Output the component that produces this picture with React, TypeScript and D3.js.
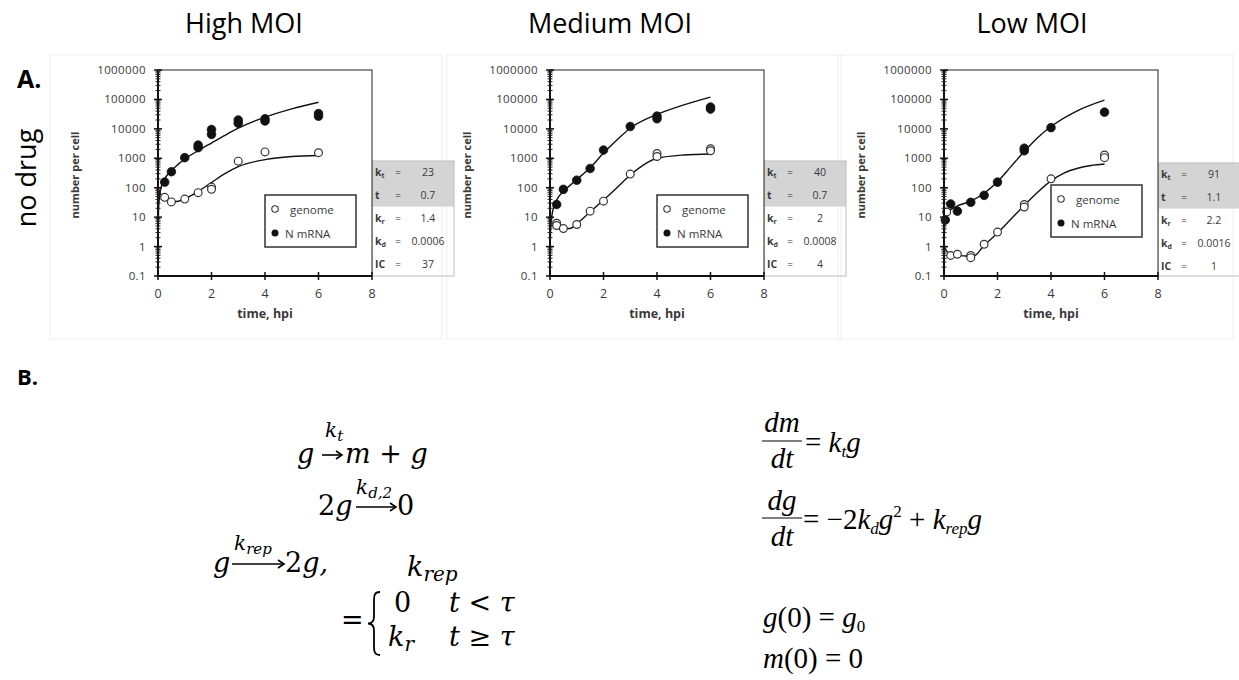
import React from 'react';
import * as d3 from 'd3';

// ---------- data ----------
const panelTitles = ['High MOI', 'Medium MOI', 'Low MOI'];
const yTickValues = [0.1, 1, 10, 100, 1000, 10000, 100000, 1000000];
const xTickValues = [0, 2, 4, 6, 8];
const legendLabels = ['genome', 'N mRNA'];
const paramMain = ['k', 't', 'k', 'k', 'IC'];
const paramSub = ['t', '', 'r', 'd', ''];

// High MOI
const hiGenomeT = [0.25, 0.5, 1, 1.5, 2, 2, 3, 4, 6];
const hiGenome = [47, 33, 41, 68, 105, 88, 800, 1650, 1550];
const hiMrnaT = [0.25, 0.5, 1, 1.5, 1.5, 2, 2, 3, 3, 4, 4, 6, 6];
const hiMrna = [155, 350, 1050, 2800, 2300, 9500, 6500, 20000, 15500, 22000, 18500, 33000, 27000];
const hiGenomeFitT = [0, 0.1, 0.25, 0.5, 0.7, 1, 1.5, 2, 2.5, 3, 4, 5, 6];
const hiGenomeFit = [90, 60, 45, 36, 34, 42, 75, 150, 300, 520, 900, 1150, 1250];
const hiMrnaFitT = [0.005, 0.02, 0.05, 0.1, 0.25, 0.5, 0.75, 1, 1.5, 2, 2.5, 3, 4, 5, 6];
const hiMrnaFit = [4, 17, 45, 90, 200, 380, 620, 950, 1800, 3300, 6000, 10500, 25000, 48000, 80000];
const hiParams = ['23', '0.7', '1.4', '0.0006', '37'];

// Medium MOI
const medGenomeT = [0.25, 0.25, 0.5, 1, 1.5, 2, 3, 4, 4, 6, 6];
const medGenome = [6.2, 5.2, 4.1, 5.6, 16, 35, 290, 1450, 1150, 2100, 1800];
const medMrnaT = [0.25, 0.5, 1, 1.5, 2, 3, 4, 4, 6, 6];
const medMrna = [27, 88, 180, 450, 1900, 12000, 27000, 22000, 55000, 47000];
const medGenomeFitT = [0, 0.25, 0.5, 0.75, 1, 1.5, 2, 2.5, 3, 3.5, 4, 5, 6];
const medGenomeFit = [5.5, 4.6, 4.1, 4.1, 6, 15, 38, 100, 270, 600, 1000, 1300, 1400];
const medMrnaFitT = [0.005, 0.02, 0.05, 0.1, 0.25, 0.5, 0.75, 1, 1.5, 2, 2.5, 3, 4, 5, 6];
const medMrnaFit = [0.8, 3.2, 8, 16, 38, 75, 120, 190, 480, 1500, 4200, 10500, 31000, 65000, 120000];
const medParams = ['40', '0.7', '2', '0.0008', '4'];

// Low MOI
const lowGenomeT = [0.1, 0.25, 0.5, 1, 1, 1.5, 2, 3, 3, 4, 6, 6];
const lowGenome = [15, 0.5, 0.55, 0.5, 0.42, 1.2, 3.1, 27, 22, 200, 1300, 1050];
const lowMrnaT = [0.05, 0.25, 0.5, 1, 1.5, 2, 3, 3, 4, 6];
const lowMrna = [8, 28, 16, 32, 55, 155, 2200, 1800, 11000, 37000];
const lowGenomeFitT = [0, 0.1, 0.25, 0.5, 0.8, 1.1, 1.5, 2, 2.5, 3, 3.5, 4, 4.5, 5, 5.5, 6];
const lowGenomeFit = [1, 0.7, 0.55, 0.5, 0.48, 0.47, 1.1, 2.9, 8.5, 25, 70, 170, 320, 460, 570, 640];
const lowMrnaFitT = [0.005, 0.02, 0.05, 0.1, 0.25, 0.5, 1, 1.5, 2, 2.5, 3, 3.5, 4, 5, 6];
const lowMrnaFit = [1, 4, 9, 14, 18, 24, 35, 65, 160, 520, 1700, 5000, 12000, 42000, 95000];
const lowParams = ['91', '1.1', '2.2', '0.0016', '1'];

// ---------- layout ----------
const W = 1239;
const H = 680;
const PLOT_W = 214;
const PLOT_TOP = 70;
const PLOT_BOTTOM = 276;
const TABLE_W = 82;
const ROW_H = 22.8;
const FONT = "'Open Sans', 'DejaVu Sans', sans-serif";
const TXT = '#3a3a3a';

const zip = (a: number[], b: number[]) => a.map((t, i) => [t, b[i]] as [number, number]);

const panels = [
  { title: panelTitles[0], titleX: 244, left: 158, legendTop: 195, tableTop: 161,
    genome: zip(hiGenomeT, hiGenome), mrna: zip(hiMrnaT, hiMrna),
    gFit: zip(hiGenomeFitT, hiGenomeFit), mFit: zip(hiMrnaFitT, hiMrnaFit), params: hiParams },
  { title: panelTitles[1], titleX: 610, left: 550, legendTop: 195, tableTop: 161,
    genome: zip(medGenomeT, medGenome), mrna: zip(medMrnaT, medMrna),
    gFit: zip(medGenomeFitT, medGenomeFit), mFit: zip(medMrnaFitT, medMrnaFit), params: medParams },
  { title: panelTitles[2], titleX: 1032, left: 944, legendTop: 185, tableTop: 163,
    genome: zip(lowGenomeT, lowGenome), mrna: zip(lowMrnaT, lowMrna),
    gFit: zip(lowGenomeFitT, lowGenomeFit), mFit: zip(lowMrnaFitT, lowMrnaFit), params: lowParams },
];

function Panel({ p, idx }: { p: any; idx: number }) {
  const x = d3.scaleLinear().domain([0, 8]).range([p.left, p.left + PLOT_W]);
  const y = d3.scaleLog().domain([0.1, 1e6]).range([PLOT_BOTTOM, PLOT_TOP]);
  const line = d3.line<[number, number]>().x(d => x(d[0])).y(d => y(d[1])).curve(d3.curveMonotoneX);
  const minor: number[] = [];
  yTickValues.slice(0, -1).forEach(dec => { for (let k = 2; k <= 9; k++) minor.push(dec * k); });
  const fmt = (v: number) => (v < 1 ? String(v) : d3.format('d')(v));
  const clipId = `clip${idx}`;
  const tl = p.left + PLOT_W;
  const lx = p.left + PLOT_W - 16 - 91;
  return (
    <g>
      <text x={p.titleX} y={33} textAnchor="middle" fontFamily={FONT} fontSize={27} fill="#000">{p.title}</text>
      <defs>
        <clipPath id={clipId}>
          <rect x={p.left} y={PLOT_TOP} width={PLOT_W} height={PLOT_BOTTOM - PLOT_TOP} />
        </clipPath>
      </defs>
      {/* parameter table */}
      <rect x={tl} y={p.tableTop} width={TABLE_W} height={ROW_H * 2} fill="#d4d4d4" />
      <rect x={tl} y={p.tableTop} width={TABLE_W} height={PLOT_BOTTOM - p.tableTop} fill="none" stroke="#bdbdbd" strokeWidth={1} />
      {p.params.map((v: string, i: number) => {
        const cy = p.tableTop + ROW_H * (i + 0.5) + 4;
        return (
          <g key={i} fontFamily={FONT} fontSize={10.5} fill={TXT}>
            <text x={tl + 3} y={cy} fontWeight="bold">
              {paramMain[i]}
              {paramSub[i] && <tspan fontSize={7} dy={2}>{paramSub[i]}</tspan>}
            </text>
            <text x={tl + 23} y={cy}>=</text>
            <text x={tl + 56} y={cy} textAnchor="middle">{v}</text>
          </g>
        );
      })}
      {/* plot frame */}
      <rect x={p.left} y={PLOT_TOP} width={PLOT_W} height={PLOT_BOTTOM - PLOT_TOP} fill="#fff" stroke="#222" strokeWidth={1} />
      <g clipPath={`url(#${clipId})`}>
        <path d={line(p.mFit) || ''} fill="none" stroke="#111" strokeWidth={1.4} />
        <path d={line(p.gFit) || ''} fill="none" stroke="#111" strokeWidth={1.4} />
      </g>
      {p.mrna.map((d: [number, number], i: number) => (
        <circle key={'m' + i} cx={x(d[0])} cy={y(d[1])} r={4.3} fill="#111" stroke="#111" strokeWidth={0.8} />
      ))}
      {p.genome.map((d: [number, number], i: number) => (
        <circle key={'g' + i} cx={x(d[0])} cy={y(d[1])} r={3.9} fill="#fff" stroke="#333" strokeWidth={1.2} />
      ))}
      {/* axes */}
      <line x1={p.left} x2={p.left} y1={PLOT_TOP} y2={PLOT_BOTTOM} stroke="#111" strokeWidth={2} />
      <line x1={p.left} x2={p.left + PLOT_W} y1={PLOT_BOTTOM} y2={PLOT_BOTTOM} stroke="#111" strokeWidth={2} />
      {minor.map((v, i) => (
        <line key={'mn' + i} x1={p.left - 2.5} x2={p.left + 2.5} y1={y(v)} y2={y(v)} stroke="#222" strokeWidth={1} />
      ))}
      {yTickValues.map((v, i) => (
        <g key={'yt' + i}>
          <line x1={p.left - 4} x2={p.left + 4} y1={y(v)} y2={y(v)} stroke="#111" strokeWidth={1.5} />
          <text x={p.left - 12} y={y(v) + 4} textAnchor="end" fontFamily={FONT} fontSize={11.5} fill={TXT} letterSpacing={0.4}>{fmt(v)}</text>
        </g>
      ))}
      {xTickValues.map((v, i) => (
        <g key={'xt' + i}>
          <line x1={x(v)} x2={x(v)} y1={PLOT_BOTTOM - 4} y2={PLOT_BOTTOM + 4} stroke="#111" strokeWidth={1.5} />
          <text x={x(v)} y={PLOT_BOTTOM + 22} textAnchor="middle" fontFamily={FONT} fontSize={12.5} fill={TXT}>{v}</text>
        </g>
      ))}
      <text x={x(4)} y={PLOT_BOTTOM + 42} textAnchor="middle" fontFamily={FONT} fontSize={12.5} fontWeight="bold" fill={TXT}>time, hpi</text>
      <text transform={`translate(${p.left - 79},${(PLOT_TOP + PLOT_BOTTOM) / 2 + 2}) rotate(-90)`} textAnchor="middle"
        fontFamily={FONT} fontSize={11} fontWeight="bold" fill={TXT}>number per cell</text>
      {/* legend */}
      <rect x={lx} y={p.legendTop} width={91} height={52} fill="#fff" stroke="#333" strokeWidth={1.5} />
      <circle cx={lx + 10} cy={p.legendTop + 14} r={3.2} fill="#fff" stroke="#333" strokeWidth={1.1} />
      <circle cx={lx + 10} cy={p.legendTop + 38} r={3.5} fill="#111" />
      <text x={lx + 25} y={p.legendTop + 18.5} fontFamily={FONT} fontSize={11.5} fill={TXT}>{legendLabels[0]}</text>
      <text x={lx + 20} y={p.legendTop + 42.5} fontFamily={FONT} fontSize={11.5} fill={TXT}>{legendLabels[1]}</text>
    </g>
  );
}

function Arrow({ x1, x2, y }: { x1: number; x2: number; y: number }) {
  return (
    <g stroke="#000" strokeWidth={1.6} fill="none">
      <line x1={x1} x2={x2 - 1} y1={y} y2={y} />
      <path d={`M${x2 - 6},${y - 4} L${x2},${y} L${x2 - 6},${y + 4}`} />
    </g>
  );
}

function Brace({ x, top, bot }: { x: number; top: number; bot: number }) {
  const mid = (top + bot) / 2;
  const d = `M${x + 9},${top} C${x + 3},${top} ${x + 3},${top + 4} ${x + 3},${top + 10} L${x + 3},${mid - 7} C${x + 3},${mid - 2} ${x + 1},${mid} ${x - 3},${mid} C${x + 1},${mid} ${x + 3},${mid + 2} ${x + 3},${mid + 7} L${x + 3},${bot - 10} C${x + 3},${bot - 4} ${x + 3},${bot} ${x + 9},${bot}`;
  return <path d={d} fill="none" stroke="#000" strokeWidth={1.8} />;
}

function Equations() {
  const LF = "'DejaVu Serif', serif";
  const RF = "'Liberation Serif', 'Times New Roman', serif";
  return (
    <g fill="#000">
      {/* left: reactions */}
      <g fontFamily={LF} fontStyle="italic" fontSize={27}>
        <text x={297} y={463}>g</text>
        <Arrow x1={322} x2={342} y={455} />
        <text x={325} y={437} fontSize={20}>k<tspan fontSize={15} dy={4}>t</tspan></text>
        <text x={345} y={463}>m <tspan fontStyle="normal">+</tspan> g</text>

        <text x={318} y={515}><tspan fontStyle="normal">2</tspan>g</text>
        <Arrow x1={356} x2={396} y={507} />
        <text x={356} y={494} fontSize={20}>k<tspan fontSize={15} dy={4}>d,2</tspan></text>
        <text x={397} y={515} fontStyle="normal">0</text>

        <text x={213} y={572}>g</text>
        <Arrow x1={232} x2={284} y={564} />
        <text x={234} y={550} fontSize={20}>k<tspan fontSize={15} dy={4}>rep</tspan></text>
        <text x={285} y={572}><tspan fontStyle="normal">2</tspan>g,</text>

        <text x={407} y={576}>k<tspan fontSize={20} dy={5}>rep</tspan></text>
        <text x={341} y={629} fontStyle="normal">=</text>
        <Brace x={371} top={592} bot={655} />
        <text x={394} y={612} fontStyle="normal">0</text>
        <text x={449} y={612}>t <tspan fontStyle="normal">&lt;</tspan> τ</text>
        <text x={388} y={646}>k<tspan fontSize={20} dy={5}>r</tspan></text>
        <text x={449} y={646}>t <tspan fontStyle="normal">≥</tspan> τ</text>
      </g>
      {/* right: ODEs */}
      <g fontFamily={RF} fontStyle="italic" fontSize={29}>
        <text x={782} y={432} textAnchor="middle">dm</text>
        <line x1={762} x2={802} y1={441} y2={441} stroke="#000" strokeWidth={1.2} />
        <text x={782} y={468} textAnchor="middle">dt</text>
        <text x={805} y={452}><tspan fontStyle="normal">= </tspan>k<tspan fontSize={17} dy={5}>t</tspan><tspan dy={-5}>g</tspan></text>

        <text x={782} y={510} textAnchor="middle">dg</text>
        <line x1={762} x2={802} y1={518} y2={518} stroke="#000" strokeWidth={1.2} />
        <text x={782} y={546} textAnchor="middle">dt</text>
        <text x={803} y={529}>
          <tspan fontStyle="normal">= −2</tspan>k<tspan fontSize={17} dy={5}>d</tspan><tspan dy={-5}>g</tspan>
          <tspan fontSize={17} fontStyle="normal" dy={-12}>2</tspan>
          <tspan fontStyle="normal" dy={12}> + </tspan>k<tspan fontSize={17} dy={5}>rep</tspan><tspan dy={-5}>g</tspan>
        </text>

        <text x={763} y={627}>g<tspan fontStyle="normal">(0) = </tspan>g<tspan fontSize={17} fontStyle="normal" dy={5}>0</tspan></text>
        <text x={763} y={668}>m<tspan fontStyle="normal">(0) = 0</tspan></text>
      </g>
    </g>
  );
}

export default function App() {
  return (
    <svg width={W} height={H} style={{ position: 'absolute', left: 0, top: 0, background: '#fff' }}>
      <rect width={W} height={H} fill="#fff" />
      {/* faint chart-area borders */}
      <rect x={50} y={55} width={392} height={284} fill="none" stroke="#efefef" />
      <rect x={447} y={55} width={394} height={284} fill="none" stroke="#efefef" />
      <rect x={838} y={55} width={395} height={284} fill="none" stroke="#efefef" />
      <text x={17} y={88} fontFamily={FONT} fontWeight="bold" fontSize={25}>A.</text>
      <text transform="translate(36,178) rotate(-90)" textAnchor="middle" fontFamily={FONT} fontSize={27}>no drug</text>
      {panels.map((p, i) => <Panel key={i} p={p} idx={i} />)}
      <text x={17} y={385} fontFamily={FONT} fontWeight="bold" fontSize={22}>B.</text>
      <Equations />
    </svg>
  );
}
